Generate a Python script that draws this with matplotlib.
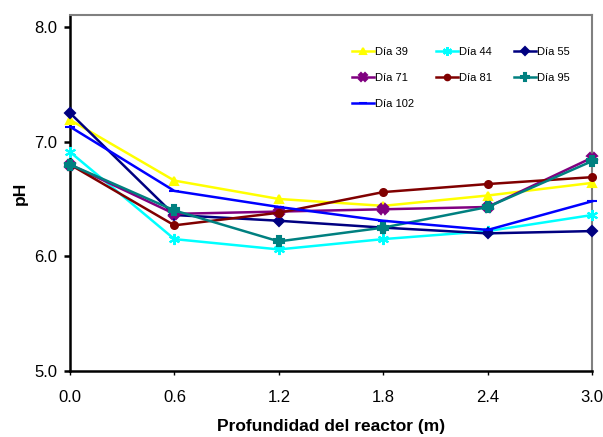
import matplotlib
matplotlib.use('Agg')
import matplotlib.pyplot as plt

plt.rcParams['font.family'] = ['Liberation Sans', 'DejaVu Sans']

# depth positions (m)
depth = [0.0, 0.6, 1.2, 1.8, 2.4, 3.0]

# pH per sampling day
dia_39 = [7.19, 6.66, 6.50, 6.44, 6.53, 6.64]
dia_44 = [6.91, 6.15, 6.06, 6.15, 6.22, 6.36]
dia_55 = [7.25, 6.36, 6.31, 6.25, 6.20, 6.22]
dia_71 = [6.80, 6.37, 6.39, 6.41, 6.43, 6.86]
dia_81 = [6.80, 6.27, 6.38, 6.56, 6.63, 6.69]
dia_95 = [6.80, 6.40, 6.13, 6.25, 6.43, 6.83]
dia_102 = [7.13, 6.57, 6.43, 6.31, 6.23, 6.48]

labels = ['Día 39', 'Día 44', 'Día 55', 'Día 71', 'Día 81', 'Día 95', 'Día 102']
colors = ['#FFFF00', '#00FFFF', '#000080', '#800080', '#800000', '#008080', '#0000FF']
markers = ['^', (6, 2, 0), 'D', 'X', 'o', 'P', '_']
sizes = [6, 8, 5, 7, 5, 7, 7]

series = [dia_39, dia_44, dia_55, dia_71, dia_81, dia_95, dia_102]

fig = plt.figure(figsize=(6.03, 4.37), dpi=100)
ax = fig.add_axes([0.116, 0.151, 0.866, 0.815])

handles = []
for vals, lab, col, mk, ms in zip(series, labels, colors, markers, sizes):
    line, = ax.plot(depth, vals, color=col, marker=mk, markersize=ms, linewidth=1.8,
                    markeredgecolor=col, markerfacecolor=col, markeredgewidth=1.5,
                    label=lab, clip_on=False, zorder=3)
    handles.append(line)

ax.set_xlim(0, 3.0)
ax.set_ylim(5.0, 8.105)
ax.set_xticks(depth)
ax.set_xticklabels(['%.1f' % d for d in depth])
ax.set_yticks([5.0, 6.0, 7.0, 8.0])
ax.set_yticklabels(['5.0', '6.0', '7.0', '8.0'])
ax.tick_params(axis='y', labelsize=12, direction='out', length=4, width=1.8, pad=5)
ax.tick_params(axis='x', labelsize=12, direction='out', length=3, width=1, pad=11)

ax.spines['left'].set_linewidth(1.8)
ax.spines['bottom'].set_linewidth(1.8)
ax.spines['top'].set_color('#808080')
ax.spines['right'].set_color('#808080')
ax.spines['top'].set_linewidth(1.5)
ax.spines['right'].set_linewidth(1.5)

ax.set_xlabel('Profundidad del reactor (m)', fontsize=12.5, fontweight='bold', labelpad=10)
ax.set_ylabel('pH', fontsize=12.5, fontweight='bold', labelpad=5)

# legend is filled column by column, so reorder to read row by row
order = [0, 3, 6, 1, 4, 2, 5]
ax.legend([handles[i] for i in order], [labels[i] for i in order],
          ncol=3, loc='upper left', bbox_to_anchor=(0.54, 0.91), frameon=False,
          fontsize=8, handlelength=2.0, handletextpad=0.05, columnspacing=2.0,
          labelspacing=1.45, markerscale=0.8, borderpad=0, borderaxespad=0)

fig.savefig('out.png', dpi=100)
